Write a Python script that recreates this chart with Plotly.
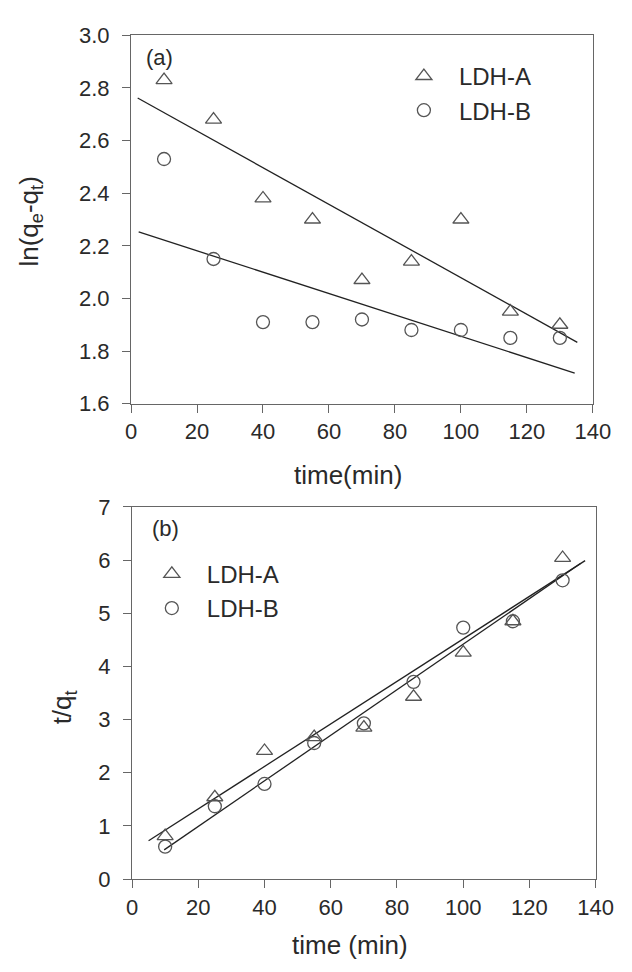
import plotly.graph_objects as go

# ---------------- data ----------------
time_pts = [10, 25, 40, 55, 70, 85, 100, 115, 130]

# (a) pseudo-first-order: ln(qe - qt)
a_ldh_a = [2.83, 2.68, 2.38, 2.30, 2.07, 2.14, 2.30, 1.95, 1.90]
a_ldh_b = [2.53, 2.15, 1.91, 1.91, 1.92, 1.88, 1.88, 1.85, 1.85]
a_fit_x_A = [2.0, 135.3]
a_fit_A = [2.762, 1.833]
a_fit_x_B = [2.3, 134.5]
a_fit_B = [2.253, 1.716]

# (b) pseudo-second-order: t/qt
b_ldh_a = [0.81, 1.54, 2.41, 2.67, 2.85, 3.43, 4.26, 4.85, 6.04]
b_ldh_b = [0.61, 1.37, 1.79, 2.56, 2.93, 3.71, 4.73, 4.85, 5.62]
b_fit_x_A = [5.0, 136.8]
b_fit_A = [0.72, 5.99]
b_fit_x_B = [9.7, 135.5]
b_fit_B = [0.55, 5.94]

FONT = "Liberation Sans, Arial, sans-serif"
TXT = "#2a2a2a"
MK = "#555555"
LINE = "#222222"

W, H = 632, 972
TICK_SIZE = 22
TITLE_SIZE = 26
LEG_SIZE = 24

fig = go.Figure()

def add_panel(xa, ya, yA, yB, fxA, fA, fxB, fB, legend):
    fig.add_trace(go.Scatter(x=fxA, y=fA, mode="lines", xaxis=xa, yaxis=ya,
                             line=dict(color=LINE, width=1.3), showlegend=False, hoverinfo="skip"))
    fig.add_trace(go.Scatter(x=fxB, y=fB, mode="lines", xaxis=xa, yaxis=ya,
                             line=dict(color=LINE, width=1.3), showlegend=False, hoverinfo="skip"))
    fig.add_trace(go.Scatter(x=time_pts, y=yA, mode="markers", name="LDH-A", xaxis=xa, yaxis=ya,
                             legend=legend,
                             marker=dict(symbol="triangle-up-open", size=14, color=MK,
                                         line=dict(color=MK, width=1.3))))
    fig.add_trace(go.Scatter(x=time_pts, y=yB, mode="markers", name="LDH-B", xaxis=xa, yaxis=ya,
                             legend=legend,
                             marker=dict(symbol="circle-open", size=13, color=MK,
                                         line=dict(color=MK, width=1.3))))

add_panel("x", "y", a_ldh_a, a_ldh_b, a_fit_x_A, a_fit_A, a_fit_x_B, a_fit_B, "legend")
add_panel("x2", "y2", b_ldh_a, b_ldh_b, b_fit_x_A, b_fit_A, b_fit_x_B, b_fit_B, "legend2")

axis_common = dict(
    showgrid=False, zeroline=False, showline=True, linecolor="#666666", linewidth=1.2,
    mirror=True, ticks="outside", ticklen=8, tickwidth=1.2, tickcolor="#666666",
    tickfont=dict(family=FONT, size=TICK_SIZE, color=TXT),
)

top_dom_x = [130 / W, 610 / W]
top_dom_y = [1 - 402 / H, 1 - 24 / H]
bot_dom_x = [131 / W, 613 / W]
bot_dom_y = [1 - 890 / H, 1 - 508 / H]

leg_common = dict(xanchor="left", yanchor="top", bgcolor="rgba(0,0,0,0)",
                  font=dict(family=FONT, size=LEG_SIZE, color=TXT), itemwidth=60)

fig.update_layout(
    width=W, height=H,
    margin=dict(l=0, r=0, t=0, b=0),
    paper_bgcolor="white", plot_bgcolor="white",
    font=dict(family=FONT, size=TICK_SIZE, color=TXT),
    xaxis=dict(domain=top_dom_x, anchor="y", range=[0, 140], dtick=20, **axis_common),
    yaxis=dict(domain=top_dom_y, anchor="x", range=[1.6, 3.0], dtick=0.2, tickformat=".1f",
               ticklabelstandoff=8, **axis_common),
    xaxis2=dict(domain=bot_dom_x, anchor="y2", range=[0, 140], dtick=20, **axis_common),
    yaxis2=dict(domain=bot_dom_y, anchor="x2", range=[0, 7], dtick=1,
                ticklabelstandoff=8, **axis_common),
    legend=dict(x=398 / W, y=1 - 43 / H, **leg_common),
    legend2=dict(x=136 / W, y=1 - 554 / H, **leg_common),
    showlegend=True,
)

annots = [
    dict(text="(a)", x=160 / W, y=1 - 47 / H, size=TICK_SIZE),
    dict(text="(b)", x=166 / W, y=1 - 530 / H, size=TICK_SIZE),
    dict(text="time(min)", x=355 / W, y=1 - 475 / H, size=TITLE_SIZE),
    dict(text="time (min)", x=358 / W, y=1 - 958 / H, size=TITLE_SIZE),
    dict(text="ln(q<sub>e</sub>-q<sub>t</sub>)", x=25 / W, y=1 - 215 / H, textangle=-90, size=TITLE_SIZE),
    dict(text="t/q<sub>t</sub>", x=60 / W, y=1 - 714 / H, textangle=-90, size=TITLE_SIZE),
]
for a in annots:
    size = a.pop("size")
    fig.add_annotation(xref="paper", yref="paper", showarrow=False,
                       xanchor="center", yanchor="middle",
                       font=dict(family=FONT, size=size, color=TXT), **a)

fig.write_html("out.html")
